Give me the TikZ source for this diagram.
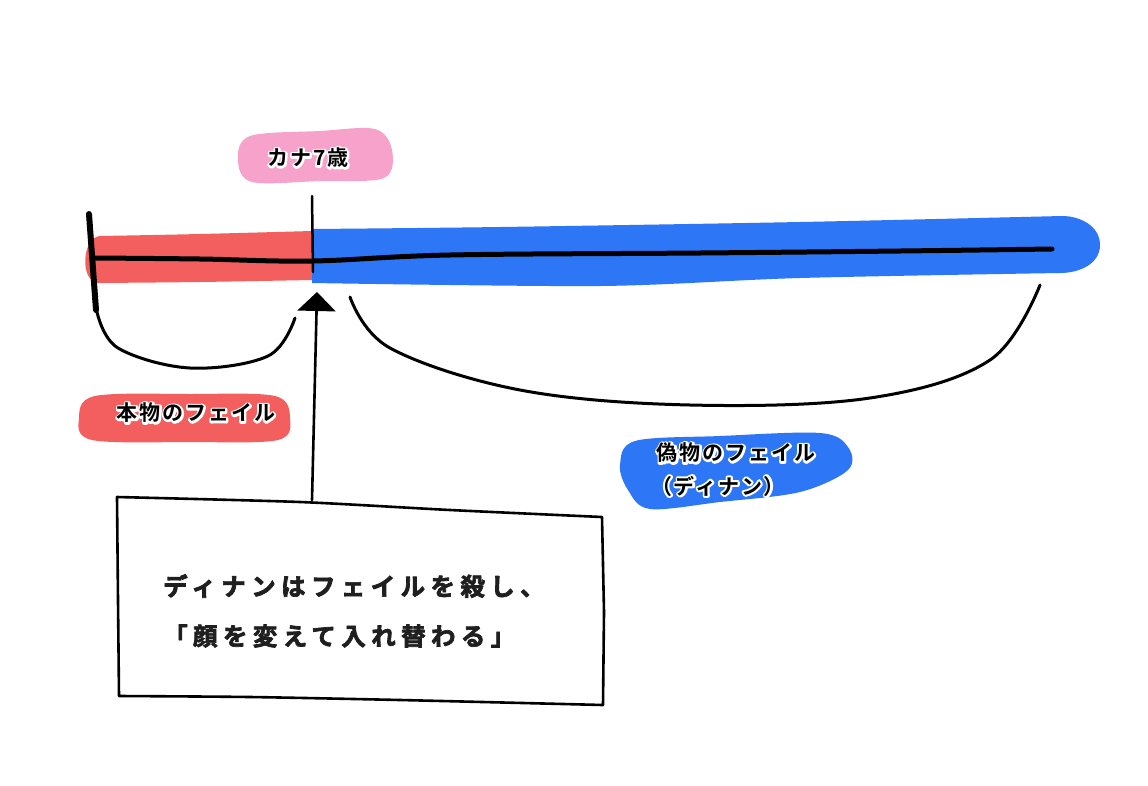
\documentclass[tikz,border=0pt]{standalone}
\usepackage{fontspec}
\newfontfamily\jpsp{Noto Sans CJK JP}[UprightFont=* Bold,LetterSpace=22]
\newfontfamily\jplab{Noto Sans CJK JP}[UprightFont=* Bold,LetterSpace=9]
\usetikzlibrary{arrows.meta,calc}
\definecolor{barred}{RGB}{243,94,94}
\definecolor{barblue}{RGB}{45,118,246}
\definecolor{lblpink}{RGB}{246,162,202}
\newcommand{\haloed}[1]{\rlap{\special{pdf:literal direct 1 1 1 RG 4 w 1 j 1 Tr}#1\special{pdf:literal direct 0 Tr}}#1}
\newcommand{\heavy}[1]{\rlap{\special{pdf:literal direct 0.12 0.12 0.12 RG 0.7 w 1 j 2 Tr}#1\special{pdf:literal direct 0 Tr}}\phantom{#1}}
\tikzset{
  ink/.style={draw=black,line cap=round,line join=round},
  lbltext/.style={font=\jplab\fontsize{21}{24}\selectfont,inner sep=0pt,text=black},
  boxtext/.style={font=\jpsp\fontsize{24.5}{28}\selectfont,inner sep=0pt,anchor=west,text=black!88},
}
\begin{document}
\begin{tikzpicture}[x=1pt,y=-1pt]
\useasboundingbox[fill=white] (0,0) rectangle (1148,785);
% bars
\fill[barred] plot[smooth,tension=0.5] coordinates {(312,231) (200,234) (100,236)} to[out=185,in=175] (98,283)
  -- plot[smooth,tension=0.5] coordinates {(98,283) (200,282) (312,280)} -- cycle;
\fill[barblue] plot[smooth,tension=0.5] coordinates {(312,229) (500,227) (800,222) (1062,216)} to[out=0,in=90] (1100,245) to[out=-90,in=0] (1060,273)
  -- plot[smooth,tension=0.5] coordinates {(1060,273) (800,278) (600,286) (312,283)} -- cycle;
% timeline
\draw[ink,line width=5] plot[smooth,tension=0.6] coordinates {(95,258) (200,259) (312,261) (450,255) (700,253) (900,251) (1052,249)};
\draw[ink,line width=6] (89,214) -- (96,310);
\draw[ink,line width=2.5] (312,196) -- (313,272);
% pink label
\fill[lblpink] plot[smooth cycle,tension=0.55] coordinates {(250,136) (320,131) (375,129) (392,150) (384,178) (320,181) (252,182) (238,160)};
\node[lbltext] (kana) at (308,158) {\haloed{カナ7歳}};
% braces
\draw[ink,line width=3] plot[smooth,tension=0.6] coordinates {(97,312) (118,348) (190,368) (268,356) (295,318)};
\draw[ink,line width=3] plot[smooth,tension=0.6] coordinates {(350,297) (390,348) (520,390) (690,405) (870,398) (990,360) (1040,285)};
% red label
\fill[barred] plot[smooth cycle,tension=0.55] coordinates {(95,396) (190,394) (275,396) (290,418) (278,440) (190,442) (92,440) (79,418)};
\node[lbltext] (real) at (196,413) {\haloed{本物のフェイル}};
% blue label
\fill[barblue] plot[smooth cycle,tension=0.55] coordinates {(635,441) (720,436) (820,433) (848,447) (848,470) (800,492) (720,502) (650,509) (628,490) (620,465)};
\node[lbltext] (fake) at (736,453) {\haloed{偽物のフェイル}};
\node[lbltext] (fake2) at (718,486) {\haloed{（ディナン）}};
% box
\draw[ink,line width=2.6] plot[smooth,tension=0.4] coordinates {(117,497) (300,502) (450,510) (602,517)} -- (604,612) -- (603,705)
  -- plot[smooth,tension=0.4] coordinates {(603,705) (400,700) (250,697) (119,696)} -- (118,600) -- cycle;
\coordinate (boxtop) at (312,500);
\coordinate (tip) at (317,292);
\draw[ink,line width=2.6,-{Triangle[width=38pt,length=19pt]}] (boxtop) -- (tip);
\node[boxtext] (l1) at (163,586) {\heavy{ディナンはフェイルを殺し、}};
\node[boxtext] (l2) at (163,636) {\heavy{「顔を変えて入れ替わる」}};
\end{tikzpicture}
\end{document}
